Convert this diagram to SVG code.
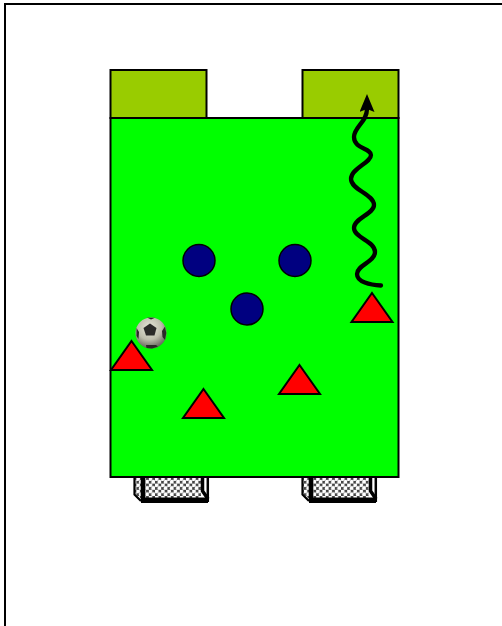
<svg xmlns="http://www.w3.org/2000/svg" width="502" height="626" viewBox="0 0 502 626">
<style>
.zone{fill:#9c0;stroke:#000;stroke-width:2}
.pitch{fill:#0f0;stroke:#000;stroke-width:2}
.player{fill:#000080;stroke:#000;stroke-width:1.500}
.cone{fill:#f00;stroke:#000;stroke-width:2}
.post{fill:none;stroke:#000;stroke-linejoin:miter}
.pent{fill:#2a2a28}
</style>
<defs>
<pattern id="net" width="6.2" height="6.2" patternUnits="userSpaceOnUse">
<rect width="6.2" height="6.2" fill="#444"/>
<circle cx="1.500" cy="1.500" r="2.100" fill="#fff"/>
<circle cx="4.600" cy="4.600" r="2.100" fill="#fff"/>
</pattern>
<radialGradient id="ballg" cx="0.45" cy="0.33" r="0.7">
<stop offset="0" stop-color="#e8e8da"/>
<stop offset="0.55" stop-color="#bdbdac"/>
<stop offset="1" stop-color="#5a5a50"/>
</radialGradient>
<marker id="head" viewBox="0 0 18 15" refX="3" refY="7.500" markerWidth="18" markerHeight="15" markerUnits="userSpaceOnUse" orient="auto">
<path d="M18 7.500L0 0L3 7.500L0 15Z" fill="#000"/>
</marker>
</defs>
<rect width="502" height="626" fill="#fff"/>
<path d="M5 626V4H502" fill="none" stroke="#000" stroke-width="2"/>
<g id="goal-left">
<path d="M135 477H201V498H140L135 494Z" fill="url(#net)"/>
<path class="post" stroke-width="2.200" d="M134.500 477V494.500L141 501"/>
<path class="post" stroke-width="4.600" d="M143 477V500.500"/>
<path class="post" stroke-width="5.500" d="M141 500.300H208"/>
<path class="post" stroke-width="3.500" d="M202.500 477V491L208 499"/>
<path class="post" stroke-width="2.500" d="M207.800 477V502"/>
</g>
<g id="goal-right">
<path d="M303 477H369V498H308L303 494Z" fill="url(#net)"/>
<path class="post" stroke-width="2.200" d="M302.500 477V494.500L309 501"/>
<path class="post" stroke-width="4.600" d="M311 477V500.500"/>
<path class="post" stroke-width="5.500" d="M309 500.300H376"/>
<path class="post" stroke-width="3.500" d="M370.500 477V491L376 499"/>
<path class="post" stroke-width="2.500" d="M375.800 477V502"/>
</g>
<g id="zone-left"><rect class="zone" x="110.500" y="70" width="96" height="48"/></g>
<g id="zone-right"><rect class="zone" x="302.500" y="70" width="96" height="48"/></g>
<g id="pitch"><rect class="pitch" x="110.500" y="118" width="288" height="359"/></g>
<g id="player-1"><circle class="player" cx="199" cy="260.500" r="16"/></g>
<g id="player-2"><circle class="player" cx="295" cy="260.500" r="16"/></g>
<g id="player-3"><circle class="player" cx="247" cy="309" r="16"/></g>
<g id="cone-1"><path class="cone" d="M372 293L392.500 322H351.500Z"/></g>
<g id="cone-2"><path class="cone" d="M131.500 341L152 370H111Z"/></g>
<g id="cone-3"><path class="cone" d="M203.500 389L224 418H183Z"/></g>
<g id="cone-4"><path class="cone" d="M299.500 365L320 394H279Z"/></g>
<g id="ball">
<circle cx="151" cy="333" r="15.500" fill="url(#ballg)"/>
<path class="pent" d="M150 323.500L156.500 328L154.500 335.500L146 335.500L143.500 328Z"/>
<path class="pent" d="M146 345L156 345L158 346.500L152 348.500L146.500 348Z"/>
<path class="pent" d="M162 331L165 326.500L166.300 333L165 340L162.500 337Z"/>
<path class="pent" d="M136.500 328L139 332L138.500 339L136.500 336Z"/>
<path class="pent" d="M147 317.600L155 317.800L151 319.500Z"/>
</g>
<g id="connectors">
<path d="M381 285.500C370 285 357 282 357 274C357 265 375 262 375 252C375 241 354 238 354 228C354 218 374 214 374 205C374 194 351 190 351 179C351 168 371 163 371 155C371 148 354 149 354 137C354 127 367 122 367 109" fill="none" stroke="#000" stroke-width="4.300" stroke-linecap="round" marker-end="url(#head)"/>
</g>
</svg>
